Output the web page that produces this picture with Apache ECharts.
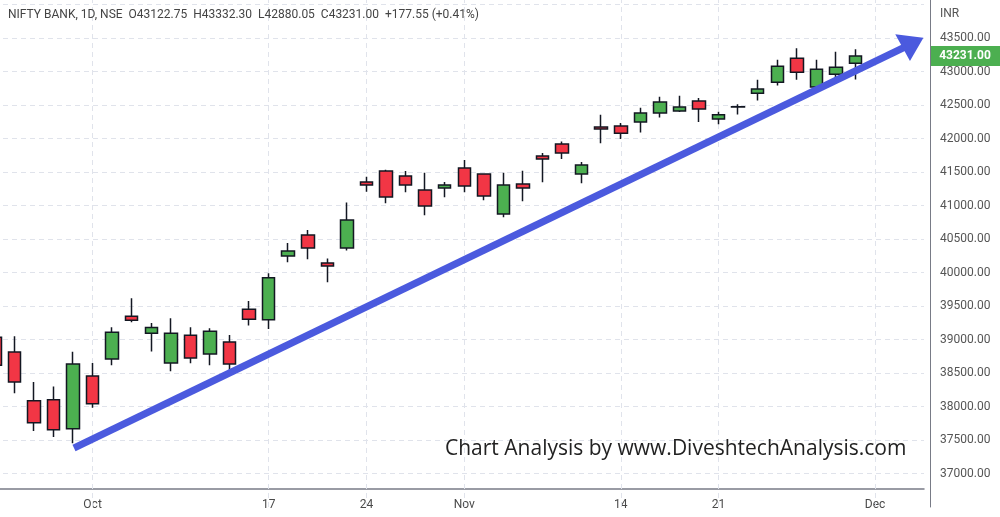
<!DOCTYPE html>
<html><head><meta charset="utf-8">
<script src="https://cdn.jsdelivr.net/npm/echarts@6/dist/echarts.min.js"></script>
<style>html,body{margin:0;padding:0;background:#fff;overflow:hidden;width:1000px;height:517px;position:relative}#c{position:absolute;left:-15px;top:-29px;width:1015px;height:546px}</style>
</head><body><div id="c"></div>
<script>
const dates = ['Sep 26','Sep 27','Sep 28','Sep 29','Sep 30','Oct 3','Oct 4','Oct 6','Oct 7','Oct 10','Oct 11','Oct 12','Oct 13','Oct 14','Oct 17','Oct 18','Oct 19','Oct 20','Oct 21','Oct 24','Oct 25','Oct 27','Oct 28','Oct 31','Nov 1','Nov 2','Nov 3','Nov 4','Nov 7','Nov 9','Nov 10','Nov 11','Nov 14','Nov 15','Nov 16','Nov 17','Nov 18','Nov 21','Nov 22','Nov 23','Nov 24','Nov 25','Nov 28','Nov 29','Nov 30','Dec 1','Dec 2','Dec 5'];
const opens  = [39035,38812,38084,38099,37668,38456,38708,39347,39094,38649,39064,38782,38961,39450,39293,40248,40561,40143,40367,41351,41515,41440,41232,41261,41560,41470,40874,41321,41739,41917,41470,42171,42186,42245,42379,42409,42558,42290,42469,42677,42841,43199,42767,42960,43122.75];
const closes = [38614,38366,37758,37654,38634,38040,39109,39287,39178,39094,38723,39124,38634,39302,39920,40322,40367,40098,40784,41306,41127,41306,40993,41306,41291,41142,41306,41261,41694,41783,41604,42141,42077,42379,42543,42469,42439,42355,42474,42737,43079,42990,43035,43065,43231.00];
const lows   = [38600,38198,37634,37545,37450,37980,38614,39258,38822,38525,38644,38614,38456,39208,39158,40153,40198,39855,40330,41207,41033,41197,40854,41122,41197,41078,40824,41063,41346,41694,41331,41928,41992,42091,42315,42394,42245,42211,42360,42568,42791,42876,42720,42900,42880.05];
const highs  = [39050,39050,38366,38297,38817,38649,39183,39614,39248,39317,39183,39168,39069,39574,39990,40441,40635,40208,41043,41430,41535,41515,41490,41351,41679,41480,41490,41520,41783,41957,41649,42355,42230,42459,42623,42638,42603,42399,42513,42876,43174,43348,43174,43293,43332.30];
const tickLabels = {'Oct 3':'Oct','Oct 17':'17','Oct 24':'24','Nov 1':'Nov','Nov 14':'14','Nov 21':'21','Dec 1':'Dec'};
const lastClose = 43231.00;

const data = opens.map((o,i)=>[o,closes[i],lows[i],highs[i]]);
const chart = echarts.init(document.getElementById('c'));
const gridMarks = Object.keys(tickLabels).map(d=>({xAxis:d}));
const dx=15, dy=29;
chart.setOption({
  animation:false,
  grid:{left:0,right:76,top:0,bottom:10},
  xAxis:{type:'category',data:dates,z:3,offset:-18,
    axisLine:{lineStyle:{color:'#787b86',width:1.5}},axisTick:{show:false},
    axisLabel:{interval:0,color:'#4a4a4a',fontSize:12,fontFamily:'Roboto',margin:10,
      formatter:v=>tickLabels[v]||''},
    splitLine:{show:false}},
  yAxis:{type:'value',position:'right',offset:6,min:36500,max:44500,interval:500,z:0,
    axisLine:{show:true,lineStyle:{color:'#787b86'}},axisTick:{show:false},
    axisLabel:{color:'#555',fontSize:12,fontFamily:'Roboto',margin:10,
      formatter:v=>(v<37000||v>43500)?'':v.toFixed(2)},
    splitLine:{lineStyle:{color:'#e0e3eb',type:[5,4]}}},
  series:[
    {type:'line',data:[],z:1,silent:true,
      markLine:{symbol:'none',silent:true,lineStyle:{color:'#e0e3eb',type:[5,4],width:1},label:{show:false},data:gridMarks}},
    {type:'candlestick',data:data,barWidth:13,zlevel:1,z:3,
    itemStyle:{color:'#4caf50',color0:'#f23645',borderColor:'#131722',borderColor0:'#131722',borderWidth:1.5}}
  ]
});
const py = chart.convertToPixel({yAxisIndex:0}, lastClose);
chart.setOption({graphic:[
    {type:'rect',z:1,shape:{x:0,y:490+dy,width:930+dx,height:40},style:{fill:'#fff'}},
    {type:'text',zlevel:1,z:5,left:8+dx,top:9+dy,style:{text:'NIFTY BANK, 1D, NSE  O43122.75  H43332.30  L42880.05  C43231.00  +177.55 (+0.41%)',fill:'#444',font:'12px Roboto'}},
    {type:'text',zlevel:1,z:5,left:940+dx,top:8+dy,style:{text:'INR',fill:'#555',font:'12px Roboto'}},
    {type:'text',zlevel:1,z:5,left:445+dx,top:439+dy,style:{text:'Chart Analysis by www.DiveshtechAnalysis.com',fill:'#222',font:'21px "Open Sans"'}},
    {type:'line',zlevel:1,z:6,shape:{x1:74+dx,y1:448+dy,x2:905+dx,y2:47+dy},style:{stroke:'#4b5ade',lineWidth:7}},
    {type:'polygon',zlevel:1,z:6,shape:{points:[[921+dx,39+dy],[898+dx,36+dy],[910+dx,58+dy]]},style:{fill:'#4b5ade',stroke:'#4b5ade',lineWidth:3}},
    {type:'rect',zlevel:1,z:7,shape:{x:931+dx,y:py-10,width:69,height:20},style:{fill:'#4caf50'}},
    {type:'text',zlevel:1,z:8,x:965+dx,y:py,style:{text:lastClose.toFixed(2),fill:'#fff',font:'bold 12px Roboto',align:'center',verticalAlign:'middle'}}
]});
</script></body></html>
